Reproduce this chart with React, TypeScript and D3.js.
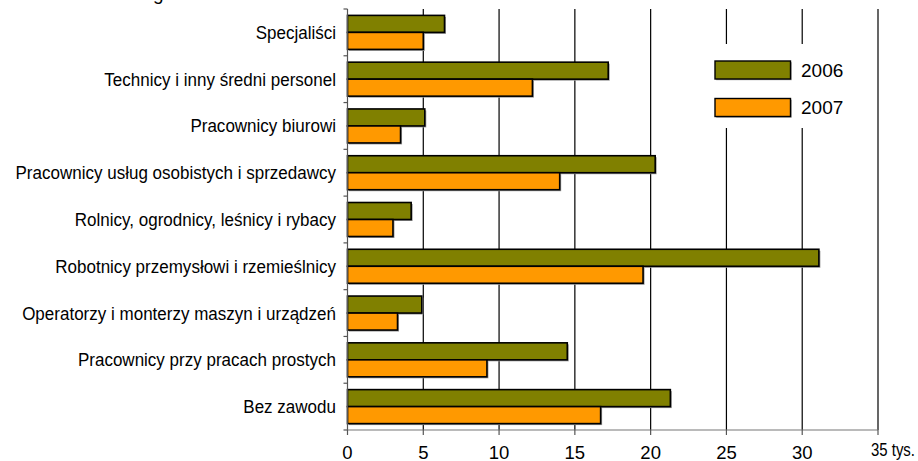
import React from 'react';
import * as d3 from 'd3';

const categories = [
  'Specjaliści',
  'Technicy i inny średni personel',
  'Pracownicy biurowi',
  'Pracownicy usług osobistych i sprzedawcy',
  'Rolnicy, ogrodnicy, leśnicy i rybacy',
  'Robotnicy przemysłowi i rzemieślnicy',
  'Operatorzy i monterzy maszyn i urządzeń',
  'Pracownicy przy pracach prostych',
  'Bez zawodu',
];
const values2006 = [6.4, 17.2, 5.1, 20.3, 4.2, 31.1, 4.9, 14.5, 21.3];
const values2007 = [5.0, 12.2, 3.5, 14.0, 3.0, 19.5, 3.3, 9.2, 16.7];
const seriesNames = ['2006', '2007'];
const seriesColors = ['#808000', '#FF9900'];
const xTicks = [0, 5, 10, 15, 20, 25, 30, 35];
const unitLabel = 'tys.';

const W = 918;
const H = 461;
const font = '"Liberation Sans", Arial, sans-serif';

const App: React.FC = () => {
  const x = d3.scaleLinear().domain([0, 35]).range([347.5, 878]);
  const y = d3.scaleBand<string>().domain(categories).range([9, 430]).padding(0);
  const ySeries = d3
    .scaleBand<string>()
    .domain(seriesNames)
    .range([0, y.bandwidth()])
    .paddingInner(0)
    .paddingOuter(0.376);
  const series = [values2006, values2007];
  const x0 = x(0);
  const bandEdges = [...categories.map(c => y(c)!), 430];

  return (
    <svg width={W} height={H} style={{ position: 'absolute', left: 0, top: 0, background: '#fff' }}>
      {/* clipped title remnant */}
      <text x={153} y={0} fontFamily={font} fontSize={19} fill="#000">g</text>

      {/* gridlines */}
      {xTicks.filter(t => t > 0).map(t => (
        <line key={'g' + t} x1={x(t)} x2={x(t)} y1={9} y2={430} stroke="#000" strokeWidth={1.2} />
      ))}

      {/* bars */}
      {categories.map((c, i) => (
        <g key={c} transform={`translate(0,${y(c)})`}>
          {series.map((vals, s) => {
            const yy = ySeries(seriesNames[s])!;
            const w = x(vals[i]) - x0;
            return (
              <g key={s}>
                <rect x={x0 + 1.5} y={yy + 1.5} width={w} height={ySeries.bandwidth()} fill="#999" />
                <rect
                  x={x0}
                  y={yy}
                  width={w}
                  height={ySeries.bandwidth()}
                  fill={seriesColors[s]}
                  stroke="#000"
                  strokeWidth={1.6}
                />
              </g>
            );
          })}
        </g>
      ))}

      {/* legend */}
      <rect x={705} y={44} width={160} height={84} fill="#fff" />
      {seriesNames.map((name, s) => (
        <g key={name} transform={`translate(715,${61 + s * 37.5})`}>
          <rect x={1.2} y={1.2} width={75.5} height={18} fill="#999" />
          <rect width={75.5} height={18} fill={seriesColors[s]} stroke="#000" strokeWidth={1.4} />
          <text x={86} y={15.5} fontFamily={font} fontSize={19} fill="#000">{name}</text>
        </g>
      ))}

      {/* y axis */}
      <line x1={x0} x2={x0} y1={9} y2={430} stroke="#555" strokeWidth={1.2} />
      {bandEdges.map((e, i) => (
        <line key={'yt' + i} x1={x0 - 4} x2={x0} y1={e} y2={e} stroke="#555" strokeWidth={1.2} />
      ))}
      {categories.map(c => (
        <text
          key={'l' + c}
          transform={`translate(336,${y(c)! + y.bandwidth() / 2 + 6.5}) scale(0.92,1)`}
          textAnchor="end"
          fontFamily={font}
          fontSize={18.5}
          fill="#000"
        >
          {c}
        </text>
      ))}

      {/* x axis */}
      <line x1={x0} x2={x(35)} y1={430} y2={430} stroke="#777" strokeWidth={1.2} />
      {xTicks.map(t => (
        <line key={'xt' + t} x1={x(t)} x2={x(t)} y1={430} y2={435} stroke="#555" strokeWidth={1.2} />
      ))}
      {xTicks.map(t =>
        t === 35 ? (
          <text
            key={'xl' + t}
            x={x(t) - 7}
            y={455.5}
            fontFamily={font}
            fontSize={19}
            textLength={44}
            lengthAdjust="spacingAndGlyphs"
            fill="#000"
          >
            {`${t} ${unitLabel}`}
          </text>
        ) : (
          <text key={'xl' + t} x={x(t)} y={458.5} textAnchor="middle" fontFamily={font} fontSize={18.5} fill="#000">
            {t}
          </text>
        )
      )}
    </svg>
  );
};

export default App;
